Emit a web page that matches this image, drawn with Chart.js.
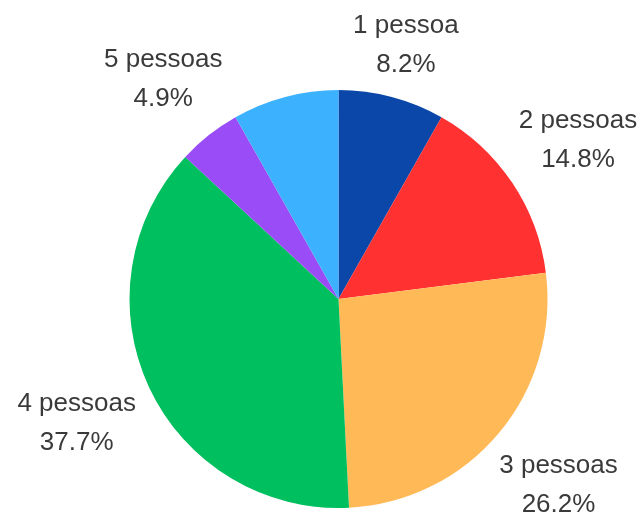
<!DOCTYPE html>
<html>
<head>
<meta charset="utf-8">
<script src="https://cdn.jsdelivr.net/npm/chart.js@4/dist/chart.umd.min.js"></script>
<style>
    html, body { margin: 0; padding: 0; background: #fff; }
    #wrap { width: 641px; height: 513px; position: relative; }
</style>
</head>
<body>
<div id="wrap"><canvas id="pieChart"></canvas></div>
<script>
// slices clockwise from 12 o'clock; the last (light blue) one has no label in the picture
const CATEGORIES = ["1 pessoa", "2 pessoas", "3 pessoas", "4 pessoas", "5 pessoas", ""];
const SHARES     = [8.2, 14.8, 26.2, 37.7, 4.9, 8.2];
const COLORS     = ["#0a47a8", "#ff3131", "#ffb957", "#00bf5f", "#9a4cf6", "#3cb2ff"];

const LABEL_FONT = '26px "Liberation Sans", Arial, sans-serif';
const LINE_GAP = 39;
const CAP_H = 19;

const outsideLabels = {
    id: 'outsideLabels',
    afterDatasetsDraw(chart) {
        const ctx = chart.ctx;
        const arcs = chart.getDatasetMeta(0).data;
        ctx.save();
        ctx.font = LABEL_FONT;
        ctx.fillStyle = '#3a3a3a';
        ctx.textAlign = 'center';
        ctx.textBaseline = 'alphabetic';
        arcs.forEach((arc, i) => {
            const name = CATEGORIES[i];
            if (!name) return;
            const pct = SHARES[i].toFixed(1) + '%';
            const mid = (arc.startAngle + arc.endAngle) / 2;
            const dx = Math.cos(mid), dy = Math.sin(mid);
            const hw = Math.max(ctx.measureText(name).width, ctx.measureText(pct).width) / 2;
            const hh = (LINE_GAP + CAP_H) / 2;
            const dist = arc.outerRadius + 14 + Math.abs(dx) * hw + Math.abs(dy) * hh;
            const cx = arc.x + dx * dist;
            const cy = arc.y + dy * dist;
            ctx.fillText(name, cx, cy - LINE_GAP / 2 + CAP_H / 2);
            ctx.fillText(pct, cx, cy + LINE_GAP / 2 + CAP_H / 2);
        });
        ctx.restore();
    }
};

new Chart(document.getElementById('pieChart'), {
    type: 'pie',
    data: {
        labels: CATEGORIES,
        datasets: [{
            data: SHARES,
            backgroundColor: COLORS,
            borderWidth: 0
        }]
    },
    options: {
        responsive: true,
        maintainAspectRatio: false,
        animation: false,
        layout: { padding: { left: 129, right: 93, top: 90, bottom: 5 } },
        plugins: {
            legend: { display: false },
            tooltip: { enabled: false }
        }
    },
    plugins: [outsideLabels]
});
</script>
</body>
</html>
